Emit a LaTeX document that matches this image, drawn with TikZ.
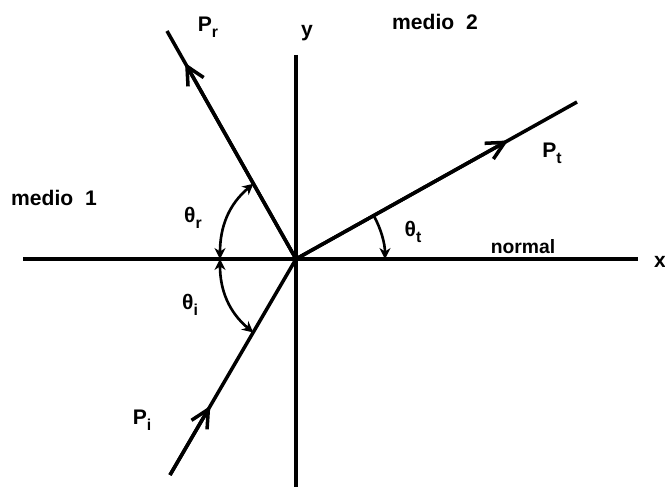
\documentclass[tikz,border=0pt]{standalone}
\usepackage{fontspec}
\setmainfont{Liberation Sans}
\usepackage{tikz}
\usetikzlibrary{arrows.meta,calc}
\newcommand{\sublbl}[2]{#1\raisebox{-0.55ex}{\small #2}}

\begin{document}
\begin{tikzpicture}[>=Stealth,
  axis/.style={line width=1.8pt},
  ray/.style={line width=2pt},
  rayhead/.style={line width=2pt,-{Straight Barb[length=3.6mm,width=3.6mm,line width=2pt]}},
  angarc/.style={line width=1.5pt,{Stealth[length=2.2mm,width=2.2mm]}-{Stealth[length=2.2mm,width=2.2mm]}},
  lbl/.style={font=\bfseries\fontsize{12}{14}\selectfont,inner sep=1pt}]
\useasboundingbox (0,0) rectangle (13.3,9.78);
% axes
\coordinate (O) at (5.92,4.6);
\coordinate (xl) at (0.46,4.6);
\coordinate (xr) at (12.76,4.6);
\coordinate (yt) at (5.92,8.68);
\coordinate (yb) at (5.92,0.04);
\draw[axis] (xl) -- (xr);
\draw[axis] (yt) -- (yb);
\node[lbl] (xlab) at (13.2,4.54) {x};
\node[lbl] (ylab) at (6.14,9.12) {y};
% media
\node[lbl] (med1) at (1.08,5.82) {medio\ \ 1};
\node[lbl] (med2) at (8.70,9.34) {medio\ \ 2};
\node[lbl,font=\bfseries\fontsize{11}{13}\selectfont] (norm) at (10.46,4.84) {normal};
% incident, reflected, transmitted rays
\coordinate (Pi0) at (3.40,0.28);
\coordinate (Pr1) at (3.34,9.16);
\coordinate (Pt1) at (11.54,7.74);
\draw[ray] (Pi0) -- (O);
\draw[rayhead] (Pi0) -- ($(Pi0)!0.32!(O)$);
\draw[ray] (O) -- (Pr1);
\draw[rayhead] (O) -- ($(O)!0.86!(Pr1)$);
\draw[ray] (O) -- (Pt1);
\draw[rayhead] (O) -- ($(O)!0.755!(Pt1)$);
\node[lbl] (Pi) at (2.84,1.38) {\sublbl{P}{i}};
\node[lbl] (Pr) at (4.16,9.24) {\sublbl{P}{r}};
\node[lbl] (Pt) at (11.04,6.72) {\sublbl{P}{t}};
% angles
\coordinate (ax) at (4.40,4.6);
\coordinate (ar) at ($(O)!0.33!(Pr1)$);
\coordinate (ai) at ($(O)!0.34!(Pi0)$);
\draw[angarc] (ax) to[out=90,in=220] (ar);
\draw[angarc] (ax) to[out=-90,in=140] (ai);
\coordinate (at) at ($(O)+(1.78,0)$);
\draw[line width=1.5pt,{Stealth[length=2.2mm,width=2.2mm]}-] (at) arc (0:29:1.78);
\node[lbl] (thr) at (3.86,5.42) {\sublbl{θ}{r}};
\node[lbl] (thi) at (3.80,3.68) {\sublbl{θ}{i}};
\node[lbl] (tht) at (8.26,5.14) {\sublbl{θ}{t}};
\end{tikzpicture}
\end{document}
